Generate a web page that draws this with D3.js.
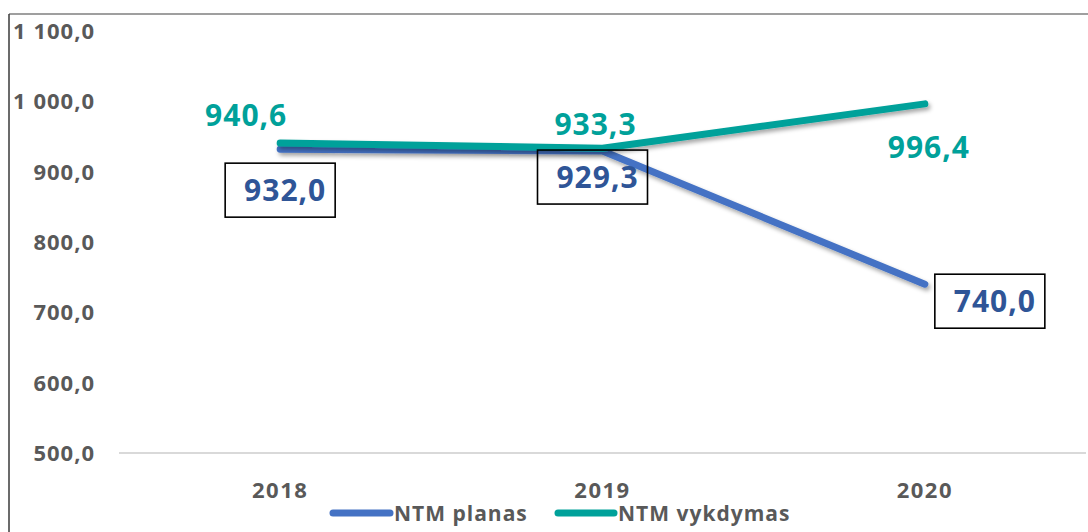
<!DOCTYPE html>
<html>
<head>
<meta charset="utf-8">
<script src="https://cdn.jsdelivr.net/npm/d3@7"></script>
<style>
  body { margin: 0; background: #fff; }
  svg { display: block; font-family: "Open Sans", "DejaVu Sans", sans-serif; }
</style>
</head>
<body>
<svg id="chart" width="1088" height="532"></svg>
<script>
// data
var years = ["2018", "2019", "2020"];
var planas = [932.0, 929.3, 740.0];
var vykdymas = [940.6, 933.3, 996.4];
var yTicks = [500, 600, 700, 800, 900, 1000, 1100];
var seriesNames = ["NTM planas", "NTM vykdymas"];

var blue = "#4472C4", blueText = "#2F5597";
var teal = "#00A19A";
var gray = "#595959";

var lt = d3.formatLocale({ decimal: ",", thousands: " ", grouping: [3], currency: ["", ""] });
var fmt = lt.format(",.1f");

var svg = d3.select("#chart");

var defs = svg.append("defs");
var f = defs.append("filter").attr("id", "shadow")
    .attr("x", "-10%").attr("y", "-50%").attr("width", "120%").attr("height", "200%");
f.append("feDropShadow").attr("dx", 2).attr("dy", 3).attr("stdDeviation", 2)
    .attr("flood-color", "#000").attr("flood-opacity", 0.35);

// frame
svg.append("line").attr("x1", 9).attr("x2", 1088).attr("y1", 14).attr("y2", 14)
    .attr("stroke", "#7f7f7f").attr("stroke-width", 1.5);
svg.append("line").attr("x1", 9).attr("x2", 9).attr("y1", 14).attr("y2", 532)
    .attr("stroke", "#3a3a3a").attr("stroke-width", 1.5);

var x = d3.scalePoint().domain(years).range([119, 1086]).padding(0.5);
var y = d3.scaleLinear().domain([500, 1100]).range([453, 31]);

// baseline
svg.append("line").attr("x1", 119).attr("x2", 1086).attr("y1", y(500)).attr("y2", y(500))
    .attr("stroke", "#d9d9d9").attr("stroke-width", 2);

// y labels
svg.append("g").selectAll("text").data(yTicks).enter().append("text")
    .attr("x", 95).attr("y", function(d) { return y(d); })
    .attr("dy", "0.36em").attr("text-anchor", "end")
    .attr("fill", gray).attr("font-weight", "bold").attr("font-size", 22)
    .attr("letter-spacing", 1)
    .text(function(d) { return fmt(d); });

// x labels
svg.append("g").selectAll("text").data(years).enter().append("text")
    .attr("x", function(d) { return x(d); }).attr("y", 490)
    .attr("dy", "0.36em").attr("text-anchor", "middle")
    .attr("fill", gray).attr("font-weight", "bold").attr("font-size", 22)
    .attr("letter-spacing", 1.5)
    .text(function(d) { return d; });

var line = d3.line().x(function(d, i) { return x(years[i]); }).y(function(d) { return y(d); });

svg.append("path").datum(planas).attr("d", line)
    .attr("fill", "none").attr("stroke", blue).attr("stroke-width", 7)
    .attr("stroke-linecap", "round").attr("stroke-linejoin", "round")
    .attr("filter", "url(#shadow)");
svg.append("path").datum(vykdymas).attr("d", line)
    .attr("fill", "none").attr("stroke", teal).attr("stroke-width", 7)
    .attr("stroke-linecap", "round").attr("stroke-linejoin", "round")
    .attr("filter", "url(#shadow)");

// teal labels
var tealOff = [[-34, -28], [-7, -24], [4, 43]];
svg.append("g").selectAll("text").data(vykdymas).enter().append("text")
    .attr("x", function(d, i) { return x(years[i]) + tealOff[i][0]; })
    .attr("y", function(d, i) { return y(d) + tealOff[i][1]; })
    .attr("dy", "0.36em").attr("text-anchor", "middle")
    .attr("fill", teal).attr("font-weight", "bold").attr("font-size", 30)
    .attr("letter-spacing", 1)
    .text(function(d) { return fmt(d); });

// blue boxed labels
var blueOff = [[0, 41], [-10, 26], [65, 17]];
var bw = 110, bh = 54;
var bl = svg.append("g").selectAll("g").data(planas).enter().append("g")
    .attr("transform", function(d, i) {
        return "translate(" + (x(years[i]) + blueOff[i][0]) + "," + (y(d) + blueOff[i][1]) + ")";
    });
bl.append("rect").attr("x", -bw / 2).attr("y", -bh / 2).attr("width", bw).attr("height", bh)
    .attr("fill", "none").attr("stroke", "#000").attr("stroke-width", 1.6);
bl.append("text").attr("x", 5).attr("y", 0).attr("dy", "0.36em").attr("text-anchor", "middle")
    .attr("fill", blueText).attr("font-weight", "bold").attr("font-size", 30)
    .attr("letter-spacing", 1)
    .text(function(d) { return fmt(d); });

// legend
var legX = [333, 558];
var legEnd = [390, 614];
var legColors = [blue, teal];
var lg = svg.append("g").selectAll("g").data(seriesNames).enter().append("g")
    .attr("transform", function(d, i) { return "translate(" + legX[i] + ",513)"; });
lg.append("line").attr("x1", 0).attr("x2", function(d, i) { return legEnd[i] - legX[i]; })
    .attr("y1", 0).attr("y2", 0)
    .attr("stroke", function(d, i) { return legColors[i]; })
    .attr("stroke-width", 7).attr("stroke-linecap", "round");
lg.append("text").attr("x", function(d, i) { return legEnd[i] - legX[i] + 4; })
    .attr("y", 0).attr("dy", "0.36em")
    .attr("fill", gray).attr("font-weight", "bold").attr("font-size", 21)
    .attr("letter-spacing", 1)
    .text(function(d) { return d; });
</script>
</body>
</html>
